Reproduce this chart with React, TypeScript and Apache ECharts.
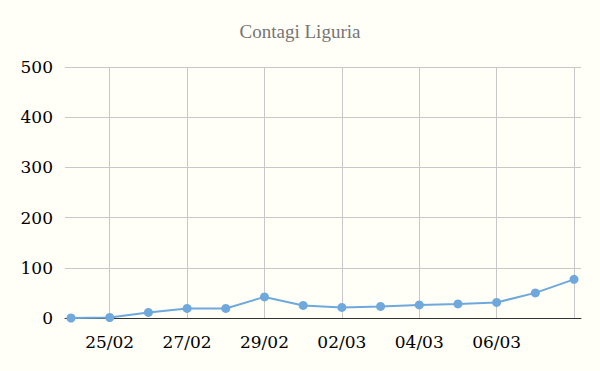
import React, { useEffect, useRef } from "react";
import * as echarts from "echarts";

const dates = ["24/02", "25/02", "26/02", "27/02", "28/02", "29/02", "01/03", "02/03", "03/03", "04/03", "05/03", "06/03", "07/03", "08/03"];
const cases = [0, 1, 11, 19, 19, 42, 25, 21, 23, 26, 28, 31, 50, 77];
const yTicks = [0, 100, 200, 300, 400, 500];
const gridIdx = [1, 3, 5, 7, 9, 11, 13];
const labelIdx = [1, 3, 5, 7, 9, 11];

export default function App() {
  const ref = useRef<HTMLDivElement>(null);
  useEffect(() => {
    if (!ref.current) return;
    const chart = echarts.init(ref.current, null, { renderer: "svg" });
    chart.setOption({
      animation: false,
      backgroundColor: "#fffff7",
      title: {
        text: "Contagi Liguria",
        left: "center",
        top: 17,
        textStyle: { fontFamily: "Liberation Serif", fontSize: 19, fontWeight: "normal", color: "#757575" },
      },
      grid: { left: 65, right: 19, top: 67, bottom: 53 },
      xAxis: {
        type: "value",
        min: -0.155,
        max: 13.18,
        axisLine: { show: true, lineStyle: { color: "#333", width: 1 } },
        axisTick: { show: false, customValues: gridIdx },
        splitLine: { show: true, lineStyle: { color: "#c8c8c8", width: 1 } },
        axisLabel: {
          customValues: labelIdx,
          formatter: (v: number) => dates[Math.round(v)] ?? "",
          fontFamily: "DejaVu Serif",
          fontSize: 17,
          color: "#000",
          margin: 15,
        },
      },
      yAxis: {
        type: "value",
        min: yTicks[0],
        max: yTicks[yTicks.length - 1],
        interval: 100,
        axisLine: { show: false },
        axisTick: { show: false },
        splitLine: { show: true, lineStyle: { color: "#c8c8c8", width: 1 } },
        axisLabel: { fontFamily: "DejaVu Serif", fontSize: 17, color: "#000", margin: 12 },
      },
      series: [
        {
          type: "line",
          data: cases.map((v, i) => [i, v]),
          symbol: "circle",
          symbolSize: 9,
          showSymbol: true,
          lineStyle: { color: "#6fa8dc", width: 2 },
          itemStyle: { color: "#6fa8dc" },
        },
      ],
    });
    return () => chart.dispose();
  }, []);
  return <div ref={ref} style={{ position: "absolute", left: 0, top: 0, width: 600, height: 371 }} />;
}
